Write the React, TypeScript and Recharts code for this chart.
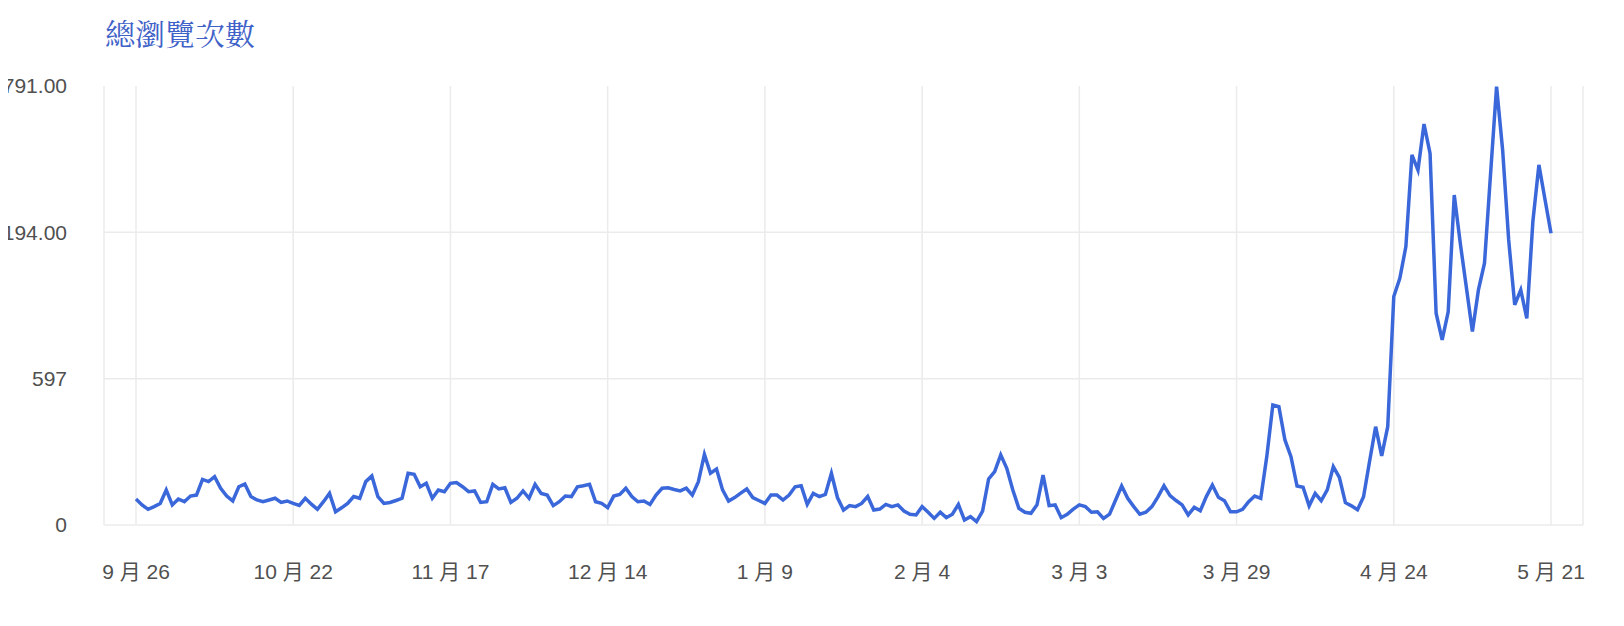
import React from 'react';
import { LineChart, Line, XAxis, YAxis, CartesianGrid, ReferenceLine } from 'recharts';

const TITLE = '總瀏覽次數';

// Daily total page views, 9/26 → 5/21
const VIEWS: number[] = [
  106, 82, 64, 75, 88, 143, 82, 106, 95, 118,
  122, 186, 177, 197, 150, 118, 98, 156, 167, 116,
  102, 95, 102, 109, 92, 98, 88, 80, 109, 85,
  64, 95, 129, 54, 70, 88, 116, 109, 177, 200,
  116, 88, 92, 100, 109, 211, 207, 156, 170, 109,
  143, 136, 170, 173, 156, 136, 139, 92, 95, 166,
  147, 152, 92, 109, 139, 109, 166, 129, 122, 79,
  95, 118, 116, 156, 160, 166, 95, 88, 71, 118,
  125, 150, 116, 95, 98, 84, 122, 150, 152, 145,
  139, 150, 122, 177, 288, 211, 228, 143, 98, 112,
  130, 147, 112, 100, 88, 122, 122, 102, 122, 156,
  160, 84, 129, 116, 125, 211, 112, 61, 79, 75,
  88, 116, 61, 65, 84, 75, 82, 57, 44, 41,
  75, 52, 27, 52, 30, 44, 84, 20, 34, 14,
  57, 188, 218, 286, 231, 143, 68, 52, 48, 82,
  204, 79, 82, 30, 44, 65, 82, 75, 52, 54,
  27, 44, 102, 159, 109, 75, 44, 52, 75, 115,
  160, 120, 100, 82, 41, 72, 58, 116, 163, 113,
  99, 54, 54, 64, 95, 118, 109, 279, 490, 483,
  347, 279, 159, 154, 78, 129, 99, 143, 238, 194,
  91, 78, 62, 115, 260, 401, 282, 401, 932, 1006,
  1136, 1510, 1448, 1636, 1516, 864, 755, 870, 1346, 1149,
  970, 789, 959, 1068, 1430, 1788, 1530, 1163, 898, 959,
  843, 1238, 1469, 1329, 1190,
];

const X_TICKS = [0, 26, 52, 78, 104, 130, 156, 182, 208, 234];
const X_TICK_LABELS = ['9 月 26', '10 月 22', '11 月 17', '12 月 14', '1 月 9', '2 月 4', '3 月 3', '3 月 29', '4 月 24', '5 月 21'];
const Y_TICKS = [0, 597, 1194, 1791];
const Y_TICK_LABELS = ['0', '597', '194.00', '791.00'];
const Y_GRID = [0, 597, 1194];

const data = VIEWS.map((v, i) => ({ day: i, views: v }));

const FONT = '"Liberation Sans", Arial, "Noto Sans CJK TC", sans-serif';
const GRID = '#ebebeb';

export default function App() {
  return (
    <div style={{ position: 'relative', width: 1624, height: 626, marginLeft: -8, marginTop: -8 }}>
      <div
        style={{
          position: 'absolute',
          left: 105,
          top: 17,
          fontSize: 30,
          lineHeight: '30px',
          color: '#3f62c8',
          fontFamily: '"Noto Serif CJK TC", serif',
          whiteSpace: 'nowrap',
        }}
      >
        {TITLE}
      </div>
      <LineChart width={1624} height={626} data={data} margin={{ top: 86, right: 41, bottom: 41, left: 0 }}>
        <CartesianGrid horizontal={false} stroke={GRID} strokeWidth={1.5} />
        {Y_GRID.map((y) => (
          <ReferenceLine key={y} y={y} stroke={GRID} strokeWidth={1.5} />
        ))}
        <XAxis
          dataKey="day"
          type="number"
          domain={[0, 234]}
          ticks={X_TICKS}
          interval={0}
          tickFormatter={(v: number) => X_TICK_LABELS[X_TICKS.indexOf(v)] ?? ''}
          axisLine={false}
          tickLine={false}
          tickSize={0}
          tickMargin={39}
          padding={{ left: 32, right: 32 }}
          height={60}
          tick={{ fontSize: 21, fill: '#505050', fontFamily: FONT }}
        />
        <YAxis
          type="number"
          domain={[0, 1791]}
          ticks={Y_TICKS}
          interval={0}
          tickFormatter={(v: number) => Y_TICK_LABELS[Y_TICKS.indexOf(v)] ?? ''}
          axisLine={false}
          tickLine={false}
          tickSize={0}
          tickMargin={37}
          width={104}
          tick={{ fontSize: 21, fill: '#505050', fontFamily: FONT }}
        />
        <Line
          type="linear"
          dataKey="views"
          stroke="#3a67d9"
          strokeWidth={3.5}
          dot={false}
          isAnimationActive={false}
        />
      </LineChart>
    </div>
  );
}
